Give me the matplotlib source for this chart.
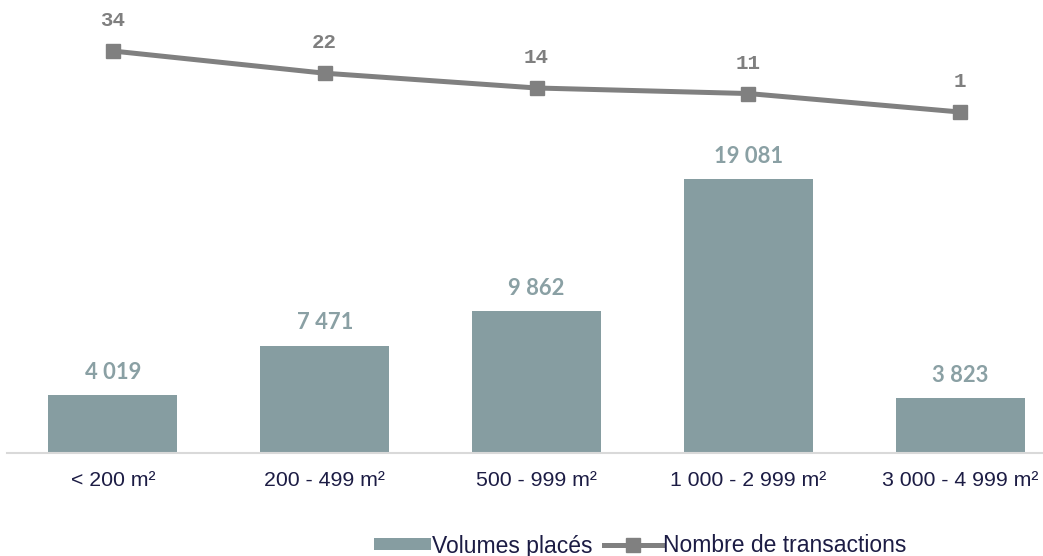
import matplotlib.pyplot as plt
import numpy as np

categories = ["< 200 m²", "200 - 499 m²", "500 - 999 m²", "1 000 - 2 999 m²", "3 000 - 4 999 m²"]
volumes = [4019, 7471, 9862, 19081, 3823]
transactions = [34, 22, 14, 11, 1]

bar_color = "#869da1"
line_color = "#808080"
text_color = "#1c1c44"


def fmt_fr(v):
    # thousands separated by a space
    return "{:,}".format(v).replace(",", " ")


fig = plt.figure(figsize=(10.43, 5.56), dpi=100)
ax = fig.add_axes([7 / 1043, 1 - 453 / 556, 1059 / 1043, 443 / 556])
x = np.arange(len(categories))

bars = ax.bar(x, volumes, width=0.61, color=bar_color, label="Volumes placés", zorder=2)
for xi, v in zip(x, volumes):
    ax.annotate(fmt_fr(v), (xi, v), xytext=(0, 9), textcoords="offset points",
                ha="center", va="bottom", fontsize=15.8, fontweight="bold",
                family="Lato", color="#8aa0a4")

ax.set_xlim(-0.5, len(categories) - 0.5)
ax.set_ylim(0, 30850)
ax.set_xticks(x)
ax.set_xticklabels(categories, fontsize=11.5, family="Liberation Sans", color=text_color)
for t in ax.get_xticklabels():
    t.set_fontsize(15.3)
ax.tick_params(axis="x", length=0, pad=13)
ax.set_yticks([])
for s in ["top", "right", "left"]:
    ax.spines[s].set_visible(False)
ax.spines["bottom"].set_color("#d9d9d9")
ax.spines["bottom"].set_linewidth(1.5)

ax2 = ax.twinx()
ax2.plot(x, transactions, color=line_color, lw=3.6, marker="s", markersize=10.5,
         label="Nombre de transactions", zorder=3)
for xi, v in zip(x, transactions):
    ax2.annotate(str(v), (xi, v), xytext=(0, 15), textcoords="offset points",
                 ha="center", va="bottom", fontsize=15, fontweight="bold",
                 family="Liberation Mono", color="#7f7f7f")
ax2.set_ylim(-183.5, 56.2)
ax2.set_yticks([])
for s in ax2.spines.values():
    s.set_visible(False)

h1, l1 = ax.get_legend_handles_labels()
h2, l2 = ax2.get_legend_handles_labels()
fig.legend(h1 + h2, l1 + l2, loc="center", bbox_to_anchor=(640 / 1043, 1 - 546 / 556),
           ncol=2, frameon=False, handlelength=2.5, handleheight=0.45, handletextpad=0.05,
           columnspacing=0.5, prop={"family": "Liberation Sans", "size": 16.5},
           labelcolor=text_color)

fig.savefig("out.png", dpi=100)
